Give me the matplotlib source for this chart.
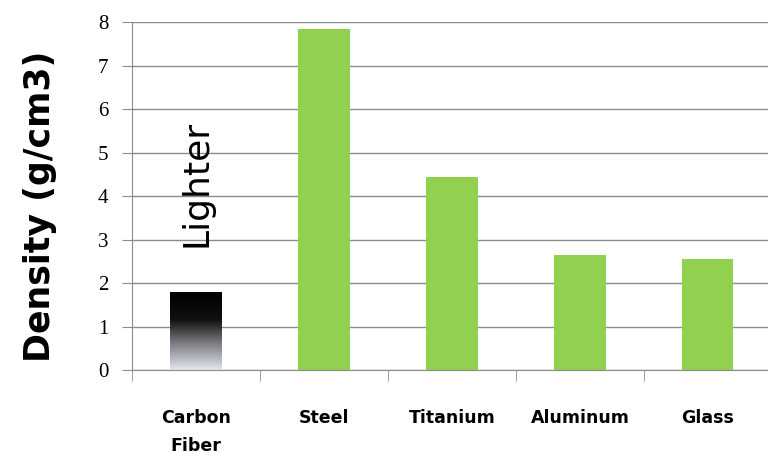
import numpy as np
import matplotlib.pyplot as plt
from matplotlib.colors import LinearSegmentedColormap

categories = ["Carbon\nFiber", "Steel", "Titanium", "Aluminum", "Glass"]
density = [1.78, 7.85, 4.45, 2.65, 2.55]
yticks = [0, 1, 2, 3, 4, 5, 6, 7, 8]

fig = plt.figure(figsize=(7.68, 4.62), dpi=100)
ax = fig.add_axes([0.172, 0.199, 0.833, 0.753])

x = np.arange(len(categories))
width = 0.4
bars = ax.bar(x, density, width=width, color="#92d050", zorder=2)

# carbon fiber bar: black-to-pale gradient instead of flat fill
b0 = bars[0]
b0.set_facecolor("none")
cmap = LinearSegmentedColormap.from_list(
    "cf", [(0, "#e4e6f0"), (0.35, "#7a7a80"), (0.65, "#101010"), (1, "#000000")])
grad = np.linspace(0, 1, 256).reshape(-1, 1)
ax.imshow(grad, cmap=cmap, origin="lower", aspect="auto", zorder=2,
          extent=[x[0] - width / 2, x[0] + width / 2, 0, density[0]])

ax.text(x[0], 4.3, "Lighter", rotation=90, ha="center", va="center",
        fontsize=26, family="DejaVu Sans", zorder=3)

ax.set_xlim(-0.5, len(categories) - 0.5)
ax.set_ylim(0, 8)
ax.set_yticks(yticks)
ax.set_yticklabels([str(v) for v in yticks], family="Liberation Serif", fontsize=15)
ax.grid(axis="y", color="#8c8c8c", linewidth=1, zorder=0)

ax.set_xticks(x)
ax.set_xticklabels(categories, fontsize=12.5, fontweight="bold", family="DejaVu Sans",
                   linespacing=1.7)
ax.tick_params(axis="x", which="major", length=0, pad=28)
ax.set_xticks(np.arange(-0.5, len(categories)), minor=True)
ax.tick_params(axis="x", which="minor", length=8, color="#8c8c8c", direction="out")
ax.tick_params(axis="y", length=7, color="#8c8c8c", direction="out", pad=10)

for s in ["top", "right"]:
    ax.spines[s].set_visible(False)
for s in ["left", "bottom"]:
    ax.spines[s].set_color("#8c8c8c")

ax.set_ylabel("Density (g/cm3)", fontsize=25, fontweight="bold")
ax.yaxis.set_label_coords(-0.118, 0.47)

fig.savefig("out.png", dpi=100)
